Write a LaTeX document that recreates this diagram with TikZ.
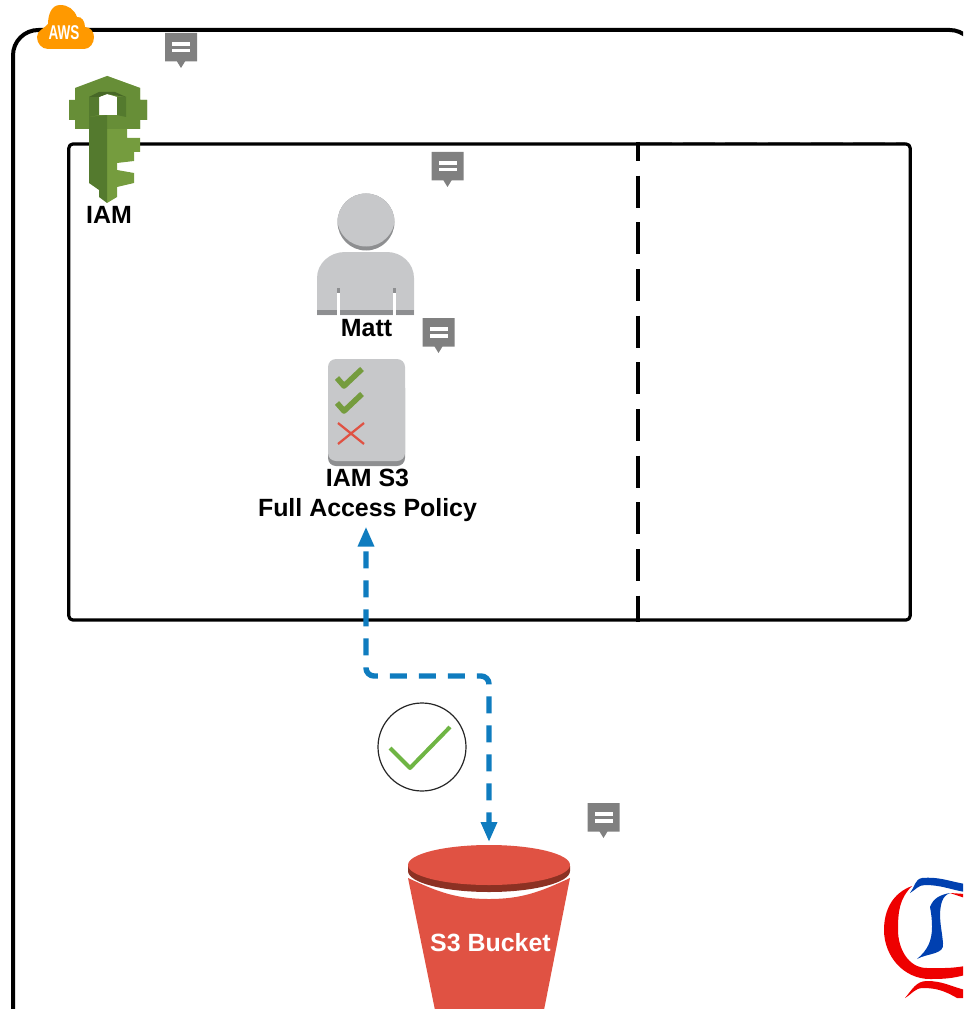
\documentclass[tikz,border=0pt]{standalone}
\usepackage{fontspec}
\setmainfont{Liberation Sans}
\usetikzlibrary{arrows.meta,shapes.geometric}
\definecolor{awsorange}{HTML}{FF9900}
\definecolor{keydark}{HTML}{547A2E}
\definecolor{keymid}{HTML}{678E37}
\definecolor{keylight}{HTML}{759C3E}
\definecolor{greybody}{HTML}{C7C8CA}
\definecolor{greydark}{HTML}{8E8F91}
\definecolor{notegrey}{HTML}{808080}
\definecolor{bucketred}{HTML}{E05243}
\definecolor{bucketdark}{HTML}{8C3123}
\definecolor{linkblue}{HTML}{0F7CBF}
\definecolor{checkgreen}{HTML}{6FB544}
\definecolor{logored}{HTML}{EE0000}
\definecolor{logoblue}{HTML}{0040B0}
\tikzset{
label/.style={font=\fontsize{18.7}{22}\selectfont\bfseries, align=center, inner sep=0pt},
note/.pic={
  \fill[notegrey] (-16,-14) rectangle (16,14.5) -- (4,14.5) -- (0,21) -- (-4,14.5) -- cycle;
  \fill[white] (-9,-5) rectangle (9,-1);
  \fill[white] (-9,2) rectangle (9,5.5);
},
link/.style={draw=linkblue, line width=4.1pt, rounded corners=6pt, dash pattern=on 12.75pt off 9pt, dash phase=17.25pt, {Triangle[length=15pt,width=11.5pt]}-{Triangle[length=15pt,width=11.5pt]}}
}
\begin{document}
\begin{tikzpicture}[x=0.75pt,y=-0.75pt,line join=round]
\useasboundingbox (0,0) rectangle (963,1009);
\clip (0,0) rectangle (963,1009);

% frames
\draw[line width=3pt, rounded corners=19pt] (13,1040) -- (13,30) -- (975,30) -- (975,1040);
\draw[black!35, line width=1pt, dash pattern=on 24pt off 8pt] (640,142.5) -- (905,142.5);
\node[draw, line width=2.4pt, rounded corners=3pt, minimum width=631pt, minimum height=357pt, inner sep=0pt] (account) at (489.5,382) {};
\draw[line width=2.3pt, dash pattern=on 24pt off 11pt, dash phase=10pt] (account.north -| 638,0) -- (account.south -| 638,0);

% aws cloud
\fill[awsorange] (48,49) to[out=180,in=270] (37,37) to[out=90,in=230] (48,24) to[out=90,in=180] (60,5) to[out=0,in=110] (77,17) to[out=10,in=90] (85,27) to[out=0,in=90] (94,37) to[out=270,in=0] (84,49) -- cycle;
\node[font=\fontsize{13}{13}\selectfont\bfseries, text=white, inner sep=0pt] (aws) at (64,33) {\scalebox{0.78}[1.15]{AWS}};

% iam key
\fill[keylight] (107,76) -- (140,88) -- (140,100) -- (147,100) -- (147,120) -- (140,120) -- (140,129) -- (127,129) -- (127,138) -- (140,138) -- (140,152) -- (134,152) -- (134,161) -- (117,163) -- (117,170) -- (134,173) -- (134,183) -- (117,187) -- (117,197) -- (107,203) -- cycle;
\fill[keymid] (107,76) -- (140,88) -- (140,100) -- (147,100) -- (147,120) -- (140,120) -- (140,129) -- (107,129) -- cycle;
\fill[keymid] (107,76) -- (75,88) -- (75,100) -- (69,100) -- (69,120) -- (75,120) -- (75,129) -- (107,129) -- cycle;
\fill[keydark] (89,117) -- (107,115) -- (107,203) -- (99,197) -- (99,190) -- (89,183) -- cycle;
\fill[white] (99,97) -- (107,94) -- (117,97) -- (117,115) -- (99,115) -- cycle;
\fill[keydark] (89,97) -- (99,97) -- (99,115) -- (89,117) -- cycle;
\fill[keydark!85!black] (89,97) -- (99,92) -- (115,92) -- (126,97) -- (107,94) -- (99,97) -- cycle;
\fill[keydark] (117,97) -- (126,97) -- (126,117) -- (117,115) -- cycle;
\node[label] (iam) at (109,215) {IAM};

% user
\fill[greydark] (366,222) circle (28.5);
\begin{scope}
\clip (366,222) circle (28.5);
\fill[greybody] (366,217.5) circle (29);
\end{scope}
\fill[greybody] (317,315) -- (317,278) to[out=90,in=180] (345,252) -- (387,252) to[out=0,in=90] (414,278) -- (414,315) -- cycle;
\fill[greydark] (317,310) rectangle (414,315);
\fill[greydark] (337,288) rectangle (340,293);
\fill[greydark] (393,288) rectangle (396,293);
\fill[white] (337,293) rectangle (340,316);
\fill[white] (393,293) rectangle (396,316);
\node[label] (matt) at (366.5,328) {Matt};

% policy
\fill[greydark, rounded corners=6pt] (328,380) rectangle (405,466);
\fill[greybody, rounded corners=6pt] (328,359) rectangle (405,461);
\draw[keylight, line width=4.2pt] (337,378) -- (344,386) -- (362,369);
\draw[keylight, line width=4.2pt] (337,403) -- (344,411) -- (362,394);
\draw[bucketred, line width=1.7pt] (338,423) -- (364,444) (338,444) -- (364,423);
\node[label] (policy) at (367.5,495) {IAM S3\\[0.5pt]Full Access Policy};

% bucket
\fill[bucketred] (408,878) to[out=-25,in=180] (489,899) to[out=0,in=205] (570,878) -- (543,1015) -- (436,1015) -- cycle;
\fill[bucketdark] (408,866) -- (408,871) arc[start angle=180,end angle=0,x radius=81,y radius=21] -- (570,866) -- cycle;
\node[ellipse, fill=bucketred, minimum width=121.5pt, minimum height=30pt, inner sep=0pt] (lid) at (489,865) {};
\node[label, text=white] (s3) at (490.5,943) {S3 Bucket};

% allowed mark
\node[circle, draw=black!85, line width=0.9pt, minimum size=66pt, inner sep=0pt] (allowed) at (422,747) {};
\draw[checkgreen, line width=3pt] (390,748) -- (410,768) -- (450,727);

% access link
\coordinate (turn) at (428,676);
\draw[link, shorten >=2pt] (policy.south -| 366,0) ++(0,5) |- (turn) -| (lid.north);

% comment icons
\pic at (181,47) {note};
\pic at (447.5,166) {note};
\pic at (438.5,332) {note};
\pic at (603.5,817) {note};

% logo
\fill[logored] (912,886) to[out=200,in=90] (884,930) to[out=270,in=180] (930,979) to[out=0,in=195] (965,975) -- (965,966) to[out=190,in=0] (927,968) to[out=180,in=270] (898,930) to[out=90,in=225] (912,886) -- cycle;
\fill[logored] (905,998) to[out=50,in=180] (927,981) to[out=0,in=165] (965,990) -- (965,998) -- (957,998) to[out=150,in=0] (923,988) to[out=180,in=30] cycle;
\fill[logored] (950,893) -- (965,894) -- (965,898) -- cycle;
\fill[logoblue] (910,893) to[out=50,in=190] (922,878) to[out=5,in=170] (965,884) -- (965,892) to[out=170,in=0] (925,885) to[out=180,in=30] cycle;
\fill[logoblue] (950,893) to[out=190,in=70] (930,907) to[out=-80,in=90] (932,927) to[out=-90,in=40] (917,959) to[out=30,in=-80] (943,943) to[out=95,in=-90] (940,913) to[out=85,in=200] cycle;
\end{tikzpicture}
\end{document}
